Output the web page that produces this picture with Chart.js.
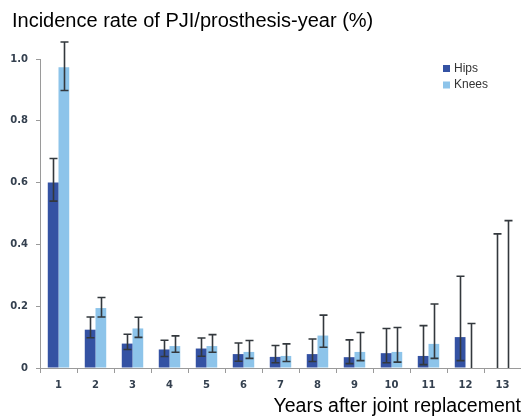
<!DOCTYPE html>
<html>
<head>
<meta charset="utf-8">
<script src="https://cdn.jsdelivr.net/npm/chart.js"></script>
<style>
  html, body { margin: 0; padding: 0; background: #fff; }
  #wrap { width: 521px; height: 416px; position: relative; }
</style>
</head>
<body>
<div id="wrap"><canvas id="chart"></canvas></div>
<script>
// Datos
const years = ['1', '2', '3', '4', '5', '6', '7', '8', '9', '10', '11', '12', '13'];
const hips = [0.60, 0.124, 0.079, 0.060, 0.063, 0.045, 0.036, 0.045, 0.035, 0.048, 0.039, 0.100, 0];
const hipsLow = [0.54, 0.098, 0.060, 0.037, 0.038, 0.022, 0.017, 0.021, 0.014, 0.017, 0.011, 0.024, 0];
const hipsHigh = [0.678, 0.165, 0.109, 0.090, 0.097, 0.081, 0.073, 0.094, 0.091, 0.128, 0.137, 0.297, 0.434];
const knees = [0.973, 0.194, 0.128, 0.071, 0.071, 0.052, 0.039, 0.105, 0.052, 0.052, 0.078, 0, 0];
const kneesLow = [0.898, 0.165, 0.099, 0.051, 0.051, 0.031, 0.021, 0.067, 0.024, 0.019, 0.031, 0, 0];
const kneesHigh = [1.055, 0.228, 0.164, 0.104, 0.108, 0.089, 0.078, 0.171, 0.115, 0.131, 0.207, 0.144, 0.477];
const yTicks = [0, 0.2, 0.4, 0.6, 0.8, 1.0];

const errorRanges = [[hipsLow, hipsHigh], [kneesLow, kneesHigh]];

// Barras de error, título y leyenda
const extras = {
  id: 'extras',
  afterDatasetsDraw(chart) {
    const ctx = chart.ctx;
    const y = chart.scales.y;
    ctx.save();
    ctx.strokeStyle = '#33383d';
    ctx.lineWidth = 1.6;
    chart.data.datasets.forEach((ds, i) => {
      const meta = chart.getDatasetMeta(i);
      const [lo, hi] = errorRanges[i];
      meta.data.forEach((bar, j) => {
        const x = Math.round(bar.x) + 0.5;
        const yl = y.getPixelForValue(lo[j]);
        const yh = y.getPixelForValue(hi[j]);
        ctx.beginPath();
        ctx.moveTo(x, yl); ctx.lineTo(x, yh);
        ctx.moveTo(x - 4, yh); ctx.lineTo(x + 4, yh);
        if (lo[j] > 0) { ctx.moveTo(x - 4, yl); ctx.lineTo(x + 4, yl); }
        ctx.stroke();
      });
    });
    ctx.restore();
  },
  afterDraw(chart) {
    const ctx = chart.ctx;
    ctx.save();
    ctx.fillStyle = '#000';
    ctx.font = '20px "Liberation Sans", Arial, sans-serif';
    ctx.textBaseline = 'alphabetic';
    ctx.fillText('Incidence rate of PJI/prosthesis-year (%)', 12, 27);
    // leyenda
    ctx.font = '12px "Liberation Sans", Arial, sans-serif';
    ctx.textBaseline = 'middle';
    chart.data.datasets.forEach((ds, i) => {
      const cy = 68.5 + i * 16.5;
      ctx.fillStyle = ds.backgroundColor;
      ctx.fillRect(443, cy - 3.5, 7, 7);
      ctx.fillStyle = '#333';
      ctx.fillText(ds.label, 454, cy);
    });
    ctx.restore();
  }
};

const tickColor = '#34404f';
const tickFont = { family: '"DejaVu Sans", Verdana, sans-serif', size: 10, weight: 'bold' };

new Chart(document.getElementById('chart'), {
  type: 'bar',
  data: {
    labels: years,
    datasets: [
      { label: 'Hips', data: hips, backgroundColor: '#3452a3', borderWidth: 0 },
      { label: 'Knees', data: knees, backgroundColor: '#8dc4ea', borderWidth: 0 }
    ]
  },
  options: {
    responsive: true,
    maintainAspectRatio: false,
    animation: false,
    layout: { padding: { top: 59, left: 10, right: 0, bottom: 0 } },
    datasets: { bar: { barPercentage: 1, categoryPercentage: 0.58 } },
    plugins: { legend: { display: false }, tooltip: { enabled: false } },
    scales: {
      x: {
        afterFit: s => { s.height = 48; },
        grid: { drawOnChartArea: false, tickLength: 5, color: '#9a9a9a', offset: true },
        border: { color: '#9a9a9a' },
        ticks: { color: tickColor, font: tickFont, padding: 6, maxRotation: 0 },
        title: {
          display: true, text: 'Years after joint replacement', align: 'end',
          color: '#000', font: { family: '"Liberation Sans", Arial, sans-serif', size: 19.5 },
          padding: { top: 0, bottom: -2 }
        }
      },
      y: {
        min: 0, max: 1.0,
        afterFit: s => { s.width = 30; },
        afterBuildTicks: s => { s.ticks = yTicks.map(v => ({ value: v })); },
        grid: { drawOnChartArea: false, tickLength: 4, color: '#9a9a9a' },
        border: { color: '#9a9a9a' },
        ticks: {
          color: tickColor, font: tickFont, padding: 8,
          callback: v => v === 0 ? '0' : v.toFixed(1)
        }
      }
    }
  },
  plugins: [extras]
});
</script>
</body>
</html>
